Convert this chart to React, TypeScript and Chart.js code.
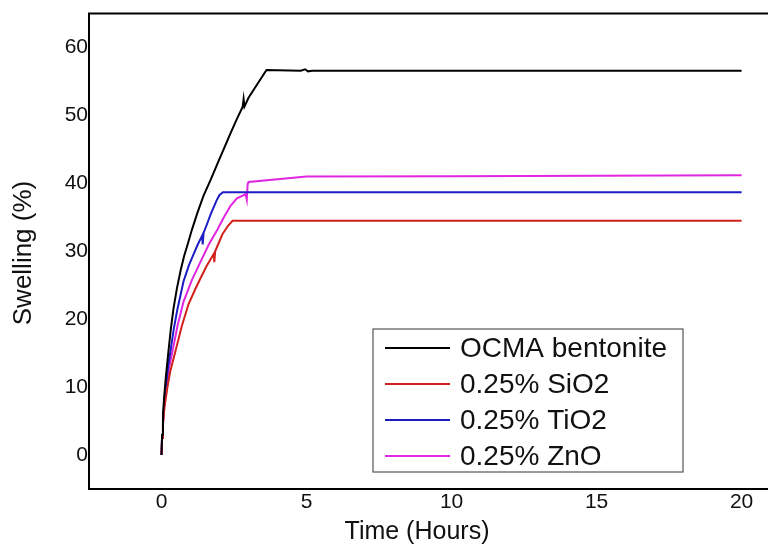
import React, { useEffect, useRef } from 'react';
import { Chart, registerables } from 'chart.js';

Chart.register(...registerables);

const seriesNames = ['OCMA bentonite', '0.25% SiO2', '0.25% TiO2', '0.25% ZnO'];
const seriesColors = ['#000000', '#d2201c', '#1c1cc4', '#e026e0'];

const ocmaT = [0, 0.02, 0.05, 0.1, 0.15, 0.24, 0.32, 0.41, 0.53, 0.66, 0.78, 0.9, 1.05, 1.24, 1.45, 1.7, 1.97, 2.2, 2.4, 2.6, 2.8, 2.83, 2.86, 3.0, 3.3, 3.62, 4.8, 4.95, 5.05, 5.2, 20];
const ocmaY = [0, 3, 6, 9, 11.5, 15.3, 18.5, 21.5, 24.5, 27.2, 29.3, 31, 33.2, 35.7, 38.2, 40.6, 43.3, 45.6, 47.6, 49.5, 51.3, 52.4, 51.3, 52.6, 54.6, 56.7, 56.6, 56.8, 56.5, 56.6, 56.6];

const sio2T = [0, 0.02, 0.05, 0.1, 0.2, 0.3, 0.48, 0.7, 0.93, 1.15, 1.34, 1.55, 1.8, 1.82, 1.85, 2.1, 2.3, 2.45, 20];
const sio2Y = [0, 2.5, 4.5, 7, 9.9, 12.3, 15.3, 19, 22.2, 24.3, 26, 27.8, 29.6, 28.4, 30.0, 32.5, 33.8, 34.5, 34.5];

const tio2T = [0, 0.02, 0.05, 0.1, 0.15, 0.22, 0.31, 0.42, 0.55, 0.76, 0.95, 1.1, 1.25, 1.4, 1.42, 1.45, 1.55, 1.7, 1.9, 2.0, 2.12, 20];
const tio2Y = [0, 2.8, 5, 8, 10, 12.8, 15.3, 18.5, 21.5, 25.6, 28, 29.5, 31, 32.3, 31.0, 32.7, 33.8, 35.5, 37.5, 38.3, 38.7, 38.7];

const znoT = [0, 0.02, 0.05, 0.1, 0.17, 0.26, 0.38, 0.55, 0.76, 1.05, 1.34, 1.63, 1.93, 2.15, 2.38, 2.6, 2.9, 2.94, 2.97, 3.0, 4.0, 5.0, 10, 20];
const znoY = [0, 2.5, 4.5, 7.3, 10, 12.8, 15.3, 19, 22.6, 25.8, 28.4, 31, 33.2, 35, 36.7, 37.8, 38.4, 37.6, 39.9, 40.2, 40.6, 41.0, 41.05, 41.2];

const xTicks = [0, 5, 10, 15, 20];
const yTicks = [0, 10, 20, 30, 40, 50, 60];

const xTitle = 'Time (Hours)';
const yTitle = 'Swelling (%)';

const FONT = '"Liberation Sans", Arial, sans-serif';

const toPoints = (t: number[], y: number[]) => t.map((v, i) => ({ x: v, y: y[i] }));

const decorPlugin = {
  id: 'decor',
  afterDraw(chart: any) {
    const ctx = chart.ctx as CanvasRenderingContext2D;
    const a = chart.chartArea;
    ctx.save();
    // frame (left, top, bottom)
    ctx.strokeStyle = '#000';
    ctx.lineWidth = 2;
    ctx.beginPath();
    ctx.moveTo(768, a.top);
    ctx.lineTo(a.left, a.top);
    ctx.lineTo(a.left, a.bottom);
    ctx.lineTo(768, a.bottom);
    ctx.stroke();

    // axis titles
    ctx.fillStyle = '#111';
    ctx.font = `25px ${FONT}`;
    ctx.textAlign = 'center';
    ctx.textBaseline = 'middle';
    ctx.fillText(xTitle, 417, 532);
    ctx.save();
    ctx.translate(24, 253);
    ctx.rotate(-Math.PI / 2);
    ctx.font = `26px ${FONT}`;
    ctx.fillText(yTitle, 0, 0);
    ctx.restore();

    // legend
    const lx = 373, ly = 329, lw = 310, lh = 143;
    ctx.fillStyle = '#ffffff';
    ctx.fillRect(lx, ly, lw, lh);
    ctx.strokeStyle = '#555';
    ctx.lineWidth = 1.2;
    ctx.strokeRect(lx, ly, lw, lh);
    ctx.font = `28px ${FONT}`;
    ctx.textAlign = 'left';
    ctx.textBaseline = 'middle';
    chart.data.datasets.forEach((ds: any, i: number) => {
      const cy = 348 + i * 36;
      ctx.strokeStyle = ds.borderColor;
      ctx.lineWidth = 2;
      ctx.beginPath();
      ctx.moveTo(385, cy);
      ctx.lineTo(450, cy);
      ctx.stroke();
      ctx.fillStyle = '#111';
      ctx.fillText(ds.label, 460, cy + 1);
    });
    ctx.restore();
  },
};

export default function App() {
  const ref = useRef<HTMLCanvasElement>(null);

  useEffect(() => {
    if (!ref.current) return;
    const data = [toPoints(ocmaT, ocmaY), toPoints(sio2T, sio2Y), toPoints(tio2T, tio2Y), toPoints(znoT, znoY)];
    const chart = new Chart(ref.current, {
      type: 'line',
      data: {
        datasets: seriesNames.map((name, i) => ({
          label: name,
          data: data[i],
          borderColor: seriesColors[i],
          backgroundColor: seriesColors[i],
          borderWidth: 2,
          pointRadius: 0,
          tension: 0,
          fill: false,
        })),
      },
      options: {
        animation: false,
        responsive: false,
        maintainAspectRatio: false,
        layout: { padding: { top: 9, left: 0, right: 0, bottom: 0 } },
        plugins: { legend: { display: false }, tooltip: { enabled: false }, title: { display: false } },
        scales: {
          x: {
            type: 'linear',
            min: -2.5,
            max: 20.91,
            grid: { display: false, drawTicks: false },
            border: { display: false },
            afterBuildTicks: (s: any) => { s.ticks = xTicks.map((v) => ({ value: v })); },
            afterFit: (s: any) => { s.height = 61; },
            ticks: { font: { size: 21, family: FONT }, color: '#111', padding: 1, maxRotation: 0 },
          },
          y: {
            type: 'linear',
            min: -5,
            max: 65,
            grid: { display: false, drawTicks: false },
            border: { display: false },
            afterBuildTicks: (s: any) => { s.ticks = yTicks.map((v) => ({ value: v })); },
            afterFit: (s: any) => { s.width = 89; },
            ticks: { font: { size: 21, family: FONT }, color: '#111', padding: 1 },
          },
        },
      },
      plugins: [decorPlugin],
    });
    return () => chart.destroy();
  }, []);

  return (
    <div style={{ position: 'absolute', left: 0, top: 0, width: 768, height: 550, background: '#fff' }}>
      <canvas ref={ref} width={768} height={550} />
    </div>
  );
}
